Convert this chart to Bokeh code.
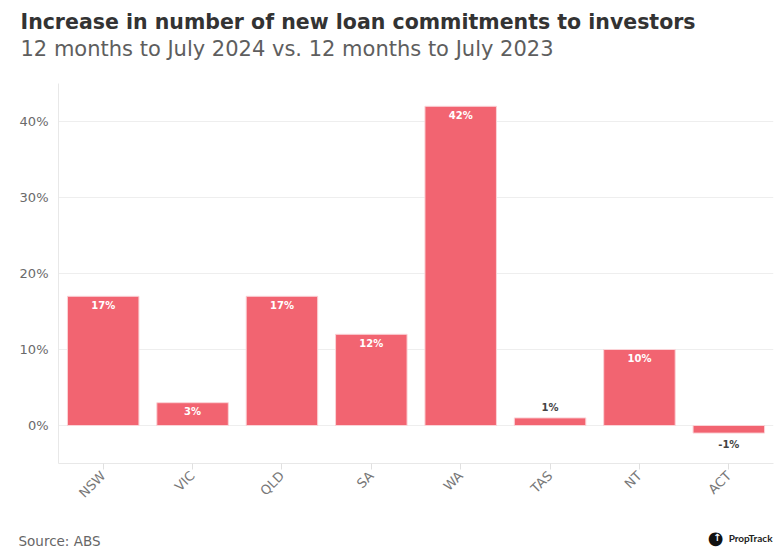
import math
from bokeh.plotting import figure
from bokeh.models import Range1d, FactorRange, FixedTicker, ColumnDataSource, Title
from bokeh.core.properties import value
from bokeh.embed import file_html
from bokeh.resources import INLINE

# ---- data ----
states = ["NSW", "VIC", "QLD", "SA", "WA", "TAS", "NT", "ACT"]
increase = [17, 3, 17, 12, 42, 1, 10, -1]
y_ticks = [0, 10, 20, 30, 40]
y_tick_labels = ["0%", "10%", "20%", "30%", "40%"]

title_text = "Increase in number of new loan commitments to investors"
subtitle_text = "12 months to July 2024 vs. 12 months to July 2023"
source_text = "Source: ABS"
brand_text = "PropTrack"

FONT = "DejaVu Sans"
BAR = "#F26471"

labels, colors, offsets = [], [], []
for v in increase:
    labels.append(f"{v}%")
    if v >= 3:
        colors.append("#ffffff"); offsets.append(9)
    elif v >= 0:
        colors.append("#444444"); offsets.append(-10)
    else:
        colors.append("#444444"); offsets.append(11)

src = ColumnDataSource(dict(state=states, value=increase, label=labels,
                            color=colors, off=offsets))

p = figure(width=777, height=556, output_backend="svg", toolbar_location=None,
           x_range=FactorRange(*states), y_range=Range1d(-5, 45),
           min_border_left=58, min_border_right=4,
           min_border_top=83, min_border_bottom=93)
p.outline_line_color = None

p.vbar(x="state", top="value", bottom=0, width=0.8, fill_color=BAR,
       line_color="#fbd3d7", line_width=1, source=src)

p.text(x="state", y="value", text="label", text_color="color", y_offset="off",
       text_align="center", text_baseline="middle", text_font=value(FONT),
       text_font_style="bold", text_font_size="10px", source=src)

p.yaxis.ticker = FixedTicker(ticks=y_ticks)
p.yaxis.major_label_overrides = {t: l for t, l in zip(y_ticks, y_tick_labels)}
p.yaxis.major_tick_line_color = None
p.yaxis.minor_tick_line_color = None
p.yaxis.major_tick_out = 0
p.yaxis.axis_line_color = "#e8e8e8"
p.yaxis.major_label_text_font = FONT
p.yaxis.major_label_text_font_size = "13px"
p.yaxis.major_label_text_color = "#6a6a6a"
p.yaxis.major_label_standoff = 10

p.xaxis.axis_line_color = "#e8e8e8"
p.xaxis.major_tick_line_color = "#e0e0e0"
p.xaxis.major_tick_out = 6
p.xaxis.major_tick_in = 0
p.xaxis.major_label_orientation = math.pi / 4
p.xaxis.major_label_text_font = FONT
p.xaxis.major_label_text_font_size = "13px"
p.xaxis.major_label_text_color = "#777777"
p.xaxis.major_label_standoff = 4

p.xgrid.grid_line_color = None
p.ygrid.ticker = FixedTicker(ticks=y_ticks)
p.ygrid.grid_line_color = "#eeeeee"

# ---- header (zero-height titles anchored at the frame top, shifted by standoff) ----
p.add_layout(Title(text=subtitle_text, align="left", offset=-38, standoff=-94,
                   vertical_align="top",
                   text_font=FONT, text_font_size="21px", text_font_style="normal",
                   text_color="#5e5e5e"), "above")
p.add_layout(Title(text=title_text, align="left", offset=-38, standoff=-147,
                   vertical_align="top",
                   text_font=FONT, text_font_size="20.5px", text_font_style="bold",
                   text_color="#333333"), "above")

# ---- footer (zero-height titles anchored below the x axis) ----
p.add_layout(Title(text=source_text, align="left", offset=-40, standoff=-80,
                   vertical_align="bottom",
                   text_font=FONT, text_font_size="13.5px", text_font_style="normal",
                   text_color="#666666"), "below")
p.add_layout(Title(text=brand_text, align="right", offset=1, standoff=-70,
                   vertical_align="bottom",
                   text_font="Lato", text_font_size="10px", text_font_style="bold",
                   text_color="#222222"), "below")
p.add_layout(Title(text="\u25cf", align="right", offset=50, standoff=-78,
                   vertical_align="bottom",
                   text_font=FONT, text_font_size="18px", text_font_style="normal",
                   text_color="#111111"), "below")
p.add_layout(Title(text="\u2191", align="right", offset=52, standoff=-68,
                   vertical_align="bottom",
                   text_font=FONT, text_font_size="10px", text_font_style="bold",
                   text_color="#ffffff"), "below")

open("out.html", "w").write(file_html(p, INLINE))
